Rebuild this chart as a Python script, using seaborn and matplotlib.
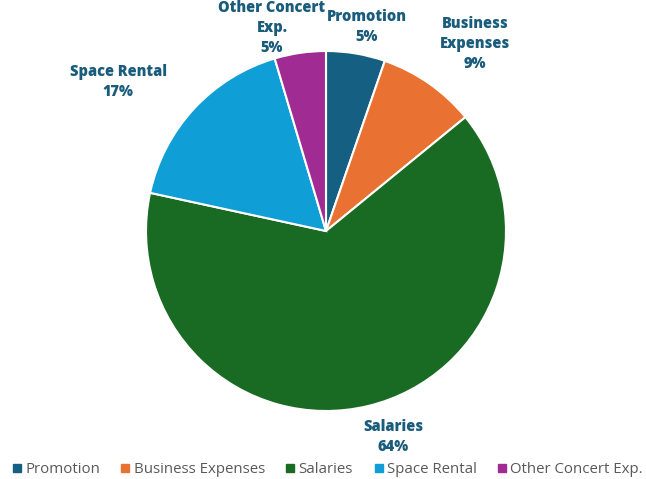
import matplotlib
matplotlib.use("Agg")
import matplotlib.pyplot as plt
import seaborn as sns
import numpy as np
from matplotlib.lines import Line2D

categories = ["Promotion", "Business Expenses", "Salaries", "Space Rental", "Other Concert Exp."]
label_texts = ["Promotion", "Business\nExpenses", "Salaries", "Space Rental", "Other Concert\nExp."]
values = [5.3, 8.8, 64.3, 17.0, 4.6]
colors = ["#156082", "#E97132", "#196B24", "#0F9ED5", "#A02B93"]

sns.set_theme(style="white")
plt.rcParams['font.family'] = ['Open Sans', 'DejaVu Sans']

W, H = 646, 479
fig = plt.figure(figsize=(W / 100, H / 100), dpi=100)
ax = fig.add_axes([0, 0, 1, 1])

cx, cy, R = 326, H - 231, 180
wedges, _ = ax.pie(values, colors=colors, startangle=90, counterclock=False,
                   center=(cx, cy), radius=R,
                   wedgeprops=dict(edgecolor="white", linewidth=1.5))
ax.set_xlim(0, W)
ax.set_ylim(0, H)
ax.set_aspect("equal")
ax.axis("off")

total = sum(values)
# label positions (offsets from pie centre, in pixels)
label_pos = [(41, 204), (149, 187), (67, -206), (-208, 149), (-54, 203)]
for txt, v, (dx, dy) in zip(label_texts, values, label_pos):
    pct = round(v / total * 100)
    ax.text(cx + dx, cy + dy, f"{txt}\n{pct}%", ha="center", va="center",
            fontsize=10.5, fontweight="heavy", color="#1A5C7C", linespacing=1.3)

handles = [Line2D([0], [0], marker="s", linestyle="", markersize=5.5,
                  markerfacecolor=c, markeredgecolor=c) for c in colors]
ax.legend(handles, categories, loc="lower center", bbox_to_anchor=(0.505, -0.025),
          ncol=5, frameon=False, fontsize=10.8, labelcolor="#595959",
          handletextpad=0.05, columnspacing=1.2, handlelength=1.0)

fig.savefig("out.png", dpi=100)
